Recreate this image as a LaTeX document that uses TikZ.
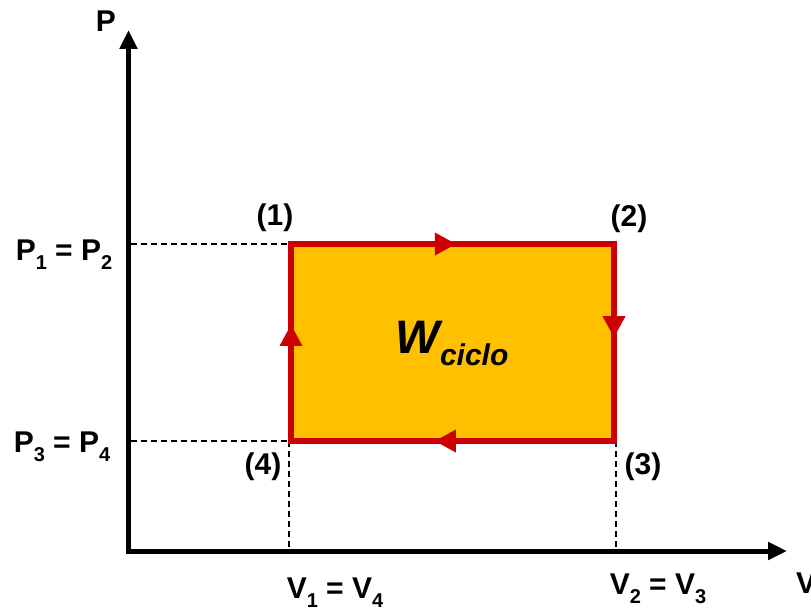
\documentclass[tikz,border=0pt]{standalone}
\usepackage{fontspec}
\setmainfont{Liberation Sans}
\usetikzlibrary{arrows.meta,decorations.markings}
\definecolor{cycred}{HTML}{CC0000}
\definecolor{cycfill}{HTML}{FFC000}
\newcommand{\lsub}[1]{\raisebox{-0.32em}{\fontsize{20}{20}\selectfont #1}}
\begin{document}
\begin{tikzpicture}[x=1pt,y=-1pt,
  axis/.style={line width=5pt,-{Triangle[length=19pt,width=17pt]}},
  guide/.style={line width=1.3pt,dash pattern=on 6pt off 4pt},
  lbl/.style={font=\fontsize{30}{32}\selectfont\bfseries,inner sep=0pt},
  edge/.style={draw=cycred,line width=6.5pt,line cap=rect,postaction={decorate},
    decoration={markings,mark=at position #1 with {\fill[cycred] (10.5pt,0pt) -- (-10.5pt,11.5pt) -- (-10.5pt,-11.5pt) -- cycle;}}}]
\useasboundingbox (0,0) rectangle (811,610);
% corners
\coordinate (c1) at (291,244);
\coordinate (c2) at (614,244);
\coordinate (c3) at (614,441);
\coordinate (c4) at (291,441);
% axis ends
\coordinate (ystart) at (128.5,553.5);
\coordinate (ytip) at (128.5,30);
\coordinate (xstart) at (126,551);
\coordinate (xtip) at (787,551);
% dashed guide ends
\coordinate (p12) at (131,244);
\coordinate (p34) at (131,441);
\coordinate (v14) at (289,548);
\coordinate (v23) at (616,548);
% area
\fill[cycfill] (c1) rectangle (c3);
% guides
\draw[guide] (p12) -- (c1);
\draw[guide] (p34) -- (c4);
\draw[guide] ([xshift=-2pt]c4) -- (v14);
\draw[guide] ([xshift=2pt]c3) -- (v23);
% cycle
\draw[edge=0.478] (c1) -- (c2);
\draw[edge=0.42] (c2) -- (c3);
\draw[edge=0.522] (c3) -- (c4);
\draw[edge=0.536] (c4) -- (c1);
% axes
\draw[axis] (ystart) -- (ytip);
\draw[axis] (xstart) -- (xtip);
% labels
\node[lbl] (P) at (106,21) {P};
\node[lbl] (V) at (806,583) {V};
\node[lbl] (l1) at (275,218) {(1)};
\node[lbl] (l2) at (629,219) {(2)};
\node[lbl] (l3) at (643,467) {(3)};
\node[lbl] (l4) at (263,467) {(4)};
\node[lbl,anchor=base] (p12l) at (64,260) {P\lsub{1} = P\lsub{2}};
\node[lbl,anchor=base] (p34l) at (62,452) {P\lsub{3} = P\lsub{4}};
\node[lbl,anchor=base] (v14l) at (335,598) {V\lsub{1} = V\lsub{4}};
\node[lbl,anchor=base] (v23l) at (658,594) {V\lsub{2} = V\lsub{3}};
\node[inner sep=0pt,anchor=base] (w) at (452,353) {\fontsize{47}{49}\selectfont\bfseries\itshape W\raisebox{-0.26em}{\fontsize{30}{31}\selectfont ciclo}};
\end{tikzpicture}
\end{document}
